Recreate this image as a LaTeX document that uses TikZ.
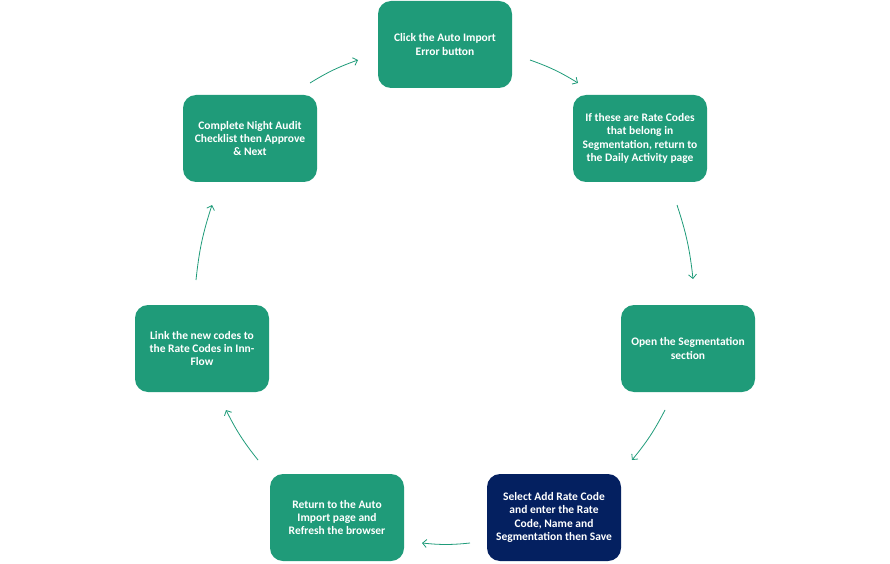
\documentclass[tikz,border=0pt]{standalone}
\usepackage{fontspec}
\setmainfont{Carlito}
\usetikzlibrary{arrows.meta}

\definecolor{stepgreen}{RGB}{31,155,121}
\definecolor{stepnavy}{RGB}{4,32,96}

\begin{document}
\begin{tikzpicture}[x=1pt, y=1pt,
    stepbox/.style={fill=stepgreen, rounded corners=13pt, minimum width=134pt, minimum height=87pt,
        inner sep=0pt, align=center, text=white, font=\fontsize{11.5}{13.3}\selectfont\bfseries},
    flow/.style={stepgreen, line width=0.8pt, -{Straight Barb[length=4pt, width=8pt]}}]
                \useasboundingbox (0, 0) rectangle (890, 563);
                % steps
                \node [stepbox] (import) at (445, 518.5) {Click the Auto Import\\Error button};
                \node [stepbox] (daily) at (640, 424.5) {If these are Rate Codes\\that belong in\\Segmentation, return to\\the Daily Activity page};
                \node [stepbox] (segment) at (688, 214.5) {Open the Segmentation\\section};
                \node [stepbox, fill=stepnavy] (addcode) at (554, 45.5) {Select Add Rate Code\\and enter the Rate\\Code, Name and\\Segmentation then Save};
                \node [stepbox] (refresh) at (337, 45.5) {Return to the Auto\\Import page and\\Refresh the browser};
                \node [stepbox] (link) at (202, 214.5) {Link the new codes to\\the Rate Codes in Inn-\\Flow};
                \node [stepbox] (audit) at (250, 424.5) {Complete Night Audit\\Checklist then Approve\\\& Next};
                % arrow ends
                \coordinate (a1) at (530, 503); \coordinate (b1) at (578, 480);
                \coordinate (a2) at (677, 358); \coordinate (b2) at (693, 284);
                \coordinate (a3) at (665, 153); \coordinate (b3) at (632, 103);
                \coordinate (a4) at (470, 20);  \coordinate (b4) at (422, 20);
                \coordinate (a5) at (258, 103); \coordinate (b5) at (226, 153);
                \coordinate (a6) at (196, 283); \coordinate (b6) at (212, 358);
                \coordinate (a7) at (310, 480); \coordinate (b7) at (358, 503);
                \draw [flow] (a1) to [bend left=6] (b1);
                \draw [flow] (a2) to [bend left=6] (b2);
                \draw [flow] (a3) to [bend left=6] (b3);
                \draw [flow] (a4) to [bend left=6] (b4);
                \draw [flow] (a5) to [bend left=6] (b5);
                \draw [flow] (a6) to [bend left=6] (b6);
                \draw [flow] (a7) to [bend left=6] (b7);
            \end{tikzpicture}
\end{document}
